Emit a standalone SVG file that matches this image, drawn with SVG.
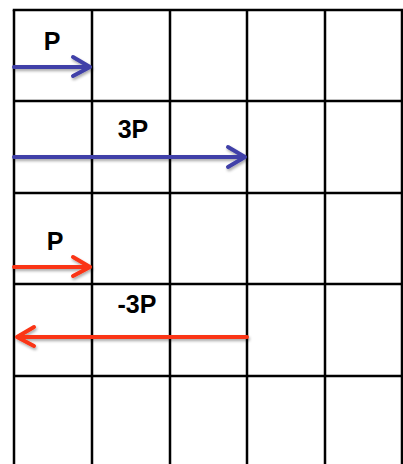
<svg xmlns="http://www.w3.org/2000/svg" width="403" height="464" viewBox="0 0 403 464">
<defs>
<filter id="sh" x="-10%" y="-50%" width="120%" height="200%">
<feGaussianBlur in="SourceAlpha" stdDeviation="1.5"/>
<feOffset dx="1" dy="2" result="b"/>
<feComponentTransfer><feFuncA type="linear" slope="0.35"/></feComponentTransfer>
<feMerge><feMergeNode/><feMergeNode in="SourceGraphic"/></feMerge>
</filter>
</defs>
<style>
.grid line{stroke:#000;stroke-width:2.5}
.lbl{font-family:"Liberation Sans",Arial,sans-serif;font-weight:bold;font-size:25px;fill:#000;text-anchor:middle}
.blue{stroke:#4141a8;stroke-width:4;fill:none;stroke-linecap:round;stroke-linejoin:round}
.red{stroke:#fa3414;stroke-width:4;fill:none;stroke-linecap:round;stroke-linejoin:round}
</style>
<rect width="403" height="464" fill="#fff"/>
<g id="grid" class="grid">
<line x1="14" y1="10" x2="14" y2="464"/>
<line x1="92" y1="10" x2="92" y2="464"/>
<line x1="170" y1="10" x2="170" y2="464"/>
<line x1="247" y1="10" x2="247" y2="464"/>
<line x1="325" y1="10" x2="325" y2="464"/>
<line x1="402" y1="10" x2="402" y2="464"/>
<line x1="12.75" y1="10" x2="403" y2="10"/>
<line x1="14" y1="101" x2="403" y2="101"/>
<line x1="14" y1="193" x2="403" y2="193"/>
<line x1="14" y1="284" x2="403" y2="284"/>
<line x1="14" y1="376" x2="403" y2="376"/>
</g>
<g id="connectors">
<g id="arrow-p-blue" filter="url(#sh)">
<path class="blue" d="M14 67 H90 M73 57 L90 67 L73 76"/>
</g>
<g id="arrow-3p-blue" filter="url(#sh)">
<path class="blue" d="M14 157 H245 M228 147 L245 157 L228 167"/>
</g>
<g id="arrow-p-red" filter="url(#sh)">
<path class="red" d="M14 267 H90 M73 257 L90 267 L73 276"/>
</g>
<g id="arrow-m3p-red" filter="url(#sh)">
<path class="red" d="M247 337 H17 M34 327 L17 337 L34 346"/>
</g>
</g>
<g id="label-p1"><text class="lbl" x="52" y="50">P</text></g>
<g id="label-3p"><text class="lbl" x="133" y="138">3P</text></g>
<g id="label-p2"><text class="lbl" x="55" y="250">P</text></g>
<g id="label-m3p"><text class="lbl" x="137" y="313">-3P</text></g>
</svg>
